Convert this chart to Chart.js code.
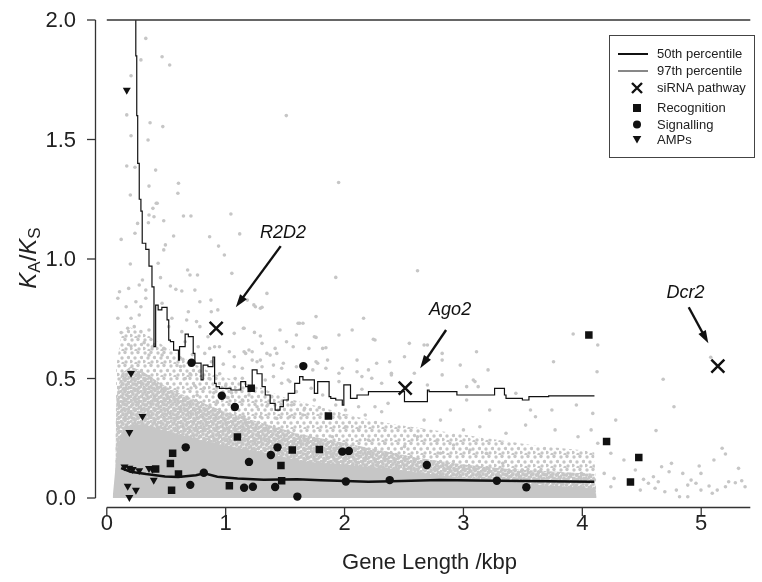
<!DOCTYPE html>
<html><head><meta charset="utf-8">
<script src="https://cdn.jsdelivr.net/npm/chart.js@4.4.1/dist/chart.umd.min.js"></script>
<style>html,body{margin:0;padding:0;background:#fff;}</style>
</head><body>
<canvas id="c" width="762" height="582"></canvas>
<script>
// ---------- DATA ----------
const xTickValues = [0, 1, 2, 3, 4, 5];
const xTickLabels = ['0', '1', '2', '3', '4', '5'];
const yTickValues = [0, 0.5, 1.0, 1.5, 2.0];
const yTickLabels = ['0.0', '0.5', '1.0', '1.5', '2.0'];
const xAxisTitle = 'Gene Length /kbp';
const legendLabels = ['50th percentile', '97th percentile', 'siRNA pathway', 'Recognition', 'Signalling', 'AMPs'];

// 97th percentile (kbp, Ka/Ks)
const p97 = [[0.244,2.10],[0.252,1.85],[0.260,1.60],[0.273,1.40],[0.287,1.25],[0.298,1.20],[0.328,1.066],[0.355,1.04],[0.380,0.97],[0.397,0.883],[0.411,0.633],[0.432,0.807],[0.463,0.787],[0.507,0.798],[0.521,0.745],[0.535,0.661],[0.562,0.654],[0.603,0.619],[0.612,0.577],[0.659,0.633],[0.686,0.686],[0.727,0.675],[0.741,0.605],[0.793,0.564],[0.810,0.494],[0.851,0.556],[0.893,0.55],[0.907,0.59],[0.920,0.48],[0.948,0.466],[1.044,0.459],[1.127,0.452],[1.168,0.487],[1.223,0.466],[1.264,0.536],[1.306,0.52],[1.333,0.466],[1.374,0.431],[1.416,0.396],[1.457,0.368],[1.485,0.382],[1.526,0.41],[1.581,0.438],[1.622,0.48],[1.650,0.508],[1.692,0.494],[1.746,0.494],[1.774,0.438],[1.829,0.487],[1.870,0.487],[1.884,0.424],[1.926,0.417],[1.981,0.41],[1.994,0.389],[2.050,0.473],[2.105,0.417],[2.201,0.431],[2.283,0.445],[2.504,0.445],[2.531,0.403],[2.697,0.403],[2.711,0.452],[2.945,0.445],[3.0,0.431],[3.262,0.431],[3.275,0.459],[3.345,0.459],[3.358,0.431],[3.496,0.417],[3.551,0.41],[3.717,0.424],[4.102,0.427]];
// 50th percentile
const p50 = [[0.12,0.125],[0.20,0.11],[0.33,0.10],[0.49,0.09],[0.60,0.088],[0.75,0.095],[0.82,0.103],[0.93,0.089],[1.10,0.082],[1.32,0.076],[1.60,0.078],[1.80,0.074],[1.94,0.072],[2.20,0.068],[2.40,0.070],[2.80,0.075],[3.10,0.073],[3.50,0.071],[4.10,0.068]];

// marker genes
const siRNA = [[0.92,0.71],[2.51,0.46],[5.14,0.552]];
const siRNANames = ['R2D2', 'Ago2', 'Dcr2'];
const recognition = [[1.215,0.459],[1.864,0.343],[1.099,0.255],[0.554,0.187],[0.535,0.144],[0.411,0.121],[0.603,0.100],[1.560,0.201],[1.788,0.203],[1.465,0.136],[1.031,0.051],[0.545,0.032],[1.471,0.072],[4.055,0.682],[4.204,0.236],[4.475,0.169],[4.405,0.067]];
const signalling = [[0.713,0.566],[0.967,0.428],[1.077,0.381],[1.653,0.552],[0.664,0.212],[1.196,0.151],[1.380,0.180],[1.436,0.212],[0.816,0.106],[0.702,0.055],[1.155,0.043],[1.229,0.047],[1.416,0.046],[1.603,0.006],[1.981,0.194],[2.036,0.197],[2.011,0.069],[2.380,0.075],[2.692,0.138],[3.281,0.072],[3.529,0.045]];
const amps = [[0.168,1.707],[0.204,0.522],[0.300,0.342],[0.190,0.275],[0.149,0.131],[0.190,0.125],[0.218,0.120],[0.273,0.115],[0.355,0.124],[0.383,0.121],[0.395,0.075],[0.176,0.050],[0.245,0.033],[0.190,0.003]];

// all-gene cloud: outlines of its sparse, speckled and solid parts (kbp, Ka/Ks)
const cloudSparse = [[0.07,0],[0.08,0.55],[0.12,0.68],[0.18,0.72],[0.25,0.70],[0.35,0.68],[0.50,0.63],[0.70,0.57],[0.90,0.52],[1.10,0.49],[1.30,0.46],[1.50,0.42],[1.80,0.38],[2.10,0.34],[2.40,0.31],[2.80,0.28],[3.20,0.25],[3.60,0.22],[4.00,0.20],[4.10,0.19],[4.12,0]];
const cloudSpeckled = [[0.07,0],[0.08,0.42],[0.12,0.52],[0.20,0.55],[0.30,0.53],[0.45,0.48],[0.60,0.44],[0.80,0.40],[1.00,0.36],[1.20,0.33],[1.40,0.30],[1.60,0.27],[1.80,0.25],[2.00,0.23],[2.30,0.20],[2.60,0.17],[3.00,0.14],[3.40,0.12],[3.80,0.11],[4.10,0.10],[4.12,0]];
const cloudSolid = [[0.05,0.005],[0.09,0.22],[0.15,0.30],[0.30,0.31],[0.50,0.28],[0.80,0.24],[1.10,0.21],[1.40,0.18],[1.70,0.15],[2.00,0.14],[2.40,0.12],[2.80,0.095],[3.20,0.075],[3.60,0.055],[4.10,0.04],[4.12,0]];
// all-gene cloud: individually visible genes
const otherGenes = [
[.328,1.923],[.465,1.846],[.529,1.812],[.287,1.833],[.204,1.767],[.168,1.603],[.364,1.570],[.471,1.554],[.204,1.516],[.347,1.498],[.168,1.389],[.237,1.384],[.411,1.372],[.355,1.305],[.603,1.317],[.598,1.275],[.198,1.268],[.416,1.233],[.388,1.212],
[.424,1.233],[.355,1.184],[.397,1.177],[.259,1.149],[.350,1.152],[.479,1.160],[.645,1.180],[.708,1.180],[1.044,1.188],[.121,1.082],[.237,1.108],[.562,1.096],[.865,1.093],[1.118,1.105],[.493,1.059],[.479,1.038],[.940,1.054],[.989,1.017],[.198,.979],[.432,.982],[.680,.954],[.700,.933],[.763,.933],[1.052,.940],[.300,.912],[.452,.922],[.535,.887],[.107,.863],[.184,.877],[.273,.891],[.328,.870],[.581,.873],[.631,.866],[.741,.870],[.093,.836],[.163,.800],[.245,.821],[.287,.800],[.328,.836],[.465,.815],[.783,.821],[.879,.779],[.934,.787],[.686,.779],[.093,.752],[.204,.752],[.273,.766],[.548,.752],[.672,.745],[.755,.738],[.121,.692],[.176,.710],[.231,.717],[.287,.696],[.355,.703],[.521,.717],[.631,.696],[.783,.717],[.851,.675],[1.072,.689],[1.155,.710],[.204,.636],[.314,.650],[.383,.633],[.479,.626],[.659,.654],[.769,.633],[.865,.626],[.948,.633],[1.031,.612],[1.155,.612],[.355,.598],[.465,.598],
[1.926,.923],[2.614,.951],[1.347,.856],[.876,.828],[1.182,.828],[1.250,.800],[1.292,.794],[1.760,.759],[1.622,.731],[1.457,.703],[1.292,.678],[1.595,.682],[1.746,.675],[1.953,.682],[2.064,.703],[2.160,.752],[2.256,.661],[2.545,.647],[2.697,.640],[3.110,.612],[1.416,.626],[1.347,.605],[1.430,.605],[1.568,.633],[1.816,.626],[1.223,.612],[1.072,.591],[.907,.633],[.824,.605],[1.072,.549],[1.223,.577],[1.292,.577],[1.857,.577],[2.105,.577],[2.270,.564],[2.504,.591],[2.821,.577],[2.973,.556],[3.083,.494],[3.207,.536],[1.471,.543],[1.595,.549],[1.774,.564],[1.981,.543],[2.105,.528],[2.201,.536],[2.394,.522],[2.587,.522],[1.402,.508],[1.526,.494],[2.821,.515],[2.697,.473],[3.027,.466],[3.124,.466],
[1.237,.808],[1.306,.798],[1.609,.731],[1.650,.731],[1.149,.710],[1.242,.693],[1.760,.672],[2.242,.664],[1.306,.647],[1.512,.654],[1.700,.626],[1.843,.629],[1.196,.619],[1.168,.605],[1.374,.598],[1.264,.570],[1.485,.564],[1.760,.570],[2.380,.570],[1.140,.543],[1.306,.549],[1.402,.556],[1.733,.536],[1.843,.543],[1.953,.522],[2.146,.508],[2.229,.501],[2.394,.515],[1.140,.501],[1.333,.494],[1.471,.480],[1.540,.487],[1.953,.487],[2.146,.455],[2.312,.480],[1.595,.445],[1.719,.459],[1.816,.431],[2.366,.396],[1.140,.410],[1.196,.431],[1.388,.424],[1.746,.410],[1.926,.389],[2.118,.382],[2.256,.382],[1.264,.382],[1.347,.385],[1.554,.389],[1.664,.375],[1.788,.379],[2.008,.368],[2.174,.347],[2.312,.361],[1.155,.340],[1.292,.340],[1.430,.333],[1.540,.340],[1.650,.347],[1.870,.340],[1.953,.340],
[2.669,.640],[2.821,.605],[3.758,.570],[3.923,.686],[4.124,.528],[4.130,.640],[3.097,.487],[3.441,.438],[3.564,.368],[3.744,.368],[3.950,.389],[4.088,.354],[4.281,.326],[2.890,.368],[3.027,.410],[3.221,.368],[2.669,.326],[2.807,.326],[3.0,.285],[3.138,.298],[3.358,.271],[3.523,.305],[3.606,.340],[3.771,.285],[3.964,.256],[4.074,.285],[4.130,.229],[4.240,.187],[4.350,.159],[4.845,.103],[4.102,.075],[4.184,.103],[4.267,.082],[4.240,.047],[3.992,.103],[3.936,.047],[3.826,.062],[3.744,.089],[3.634,.110],[3.496,.117],[3.386,.089],[3.331,.145],[3.193,.187],[3.055,.201],[2.917,.222],[2.807,.187],[2.779,.243],[2.614,.256],[2.504,.215],[2.339,.229],[2.201,.243],[2.118,.285],[2.008,.298],[1.898,.256],
[5.080,.589],[4.680,.497],[4.771,.382],[4.620,.282],[5.176,.208],[5.204,.184],[5.107,.159],[5.314,.124],[4.983,.134],[4.998,.103],[4.750,.145],[4.667,.131],[4.730,.110],[4.446,.117],[4.515,.078],[4.598,.089],[4.639,.068],[4.556,.062],[4.488,.033],[4.612,.041],[4.694,.026],[4.791,.033],[4.887,.054],[4.915,.075],[4.956,.062],[4.998,.033],[5.066,.050],[5.135,.033],[5.204,.047],[5.231,.068],[5.287,.064],[5.341,.072],[5.369,.047],[4.887,.005],[5.093,.020],[4.818,.005],
[.62,.55],[.66,.50],[.70,.52],[.74,.47],[.78,.53],[.82,.46],[.86,.50],[.90,.44],[.95,.52],[1.00,.47],[1.05,.44],[1.08,.50],[.64,.58],[.72,.60],[.88,.57],[.98,.56],[1.02,.42],[.93,.40],[.76,.43],[1.51,1.60],[1.95,1.32]
];

// annotation anchors (kbp, Ka/Ks)
const annotLabelAt = [[1.483,1.109],[2.888,0.787],[4.868,0.858]];
const annotArrowFrom = [[1.463,1.054],[2.854,0.703],[4.895,0.798]];
const annotArrowTo = [[1.085,0.798],[2.636,0.543],[5.060,0.647]];

// ---------- RENDER ----------
const toXY = arr => arr.map(p => ({x: p[0], y: p[1]}));
const FONT = "'Liberation Sans', Arial, Helvetica, sans-serif";
const INK = '#111';
const GREY = '#c6c6c6';
const canvas = document.getElementById('c');
const mainCtx = canvas.getContext('2d');

function speckle(size, spots, r) {
  const t = document.createElement('canvas');
  t.width = t.height = size;
  const g = t.getContext('2d');
  g.fillStyle = GREY;
  spots.forEach(s => { g.beginPath(); g.arc(s[0], s[1], r, 0, Math.PI * 2); g.fill(); });
  return mainCtx.createPattern(t, 'repeat');
}
const sparseTex = speckle(13, [[2,2],[8,1.5],[11.5,6.5],[5,7],[1,10.5],[9,11],[6,12.5]], 1.7);
const denseTex = speckle(10, [[1,1],[5,0.5],[8.5,2.5],[3,4],[6.5,5],[0.5,6.5],[9.5,7.5],[4,8.5],[7,9.5]], 1.9);

function drawArrow(ctx, x1, y1, x2, y2) {
  const a = Math.atan2(y2 - y1, x2 - x1), L = 13, W = 4.2;
  const c = Math.cos(a), s = Math.sin(a);
  ctx.beginPath(); ctx.moveTo(x1, y1); ctx.lineTo(x2 - c * L * 0.8, y2 - s * L * 0.8);
  ctx.lineWidth = 2.4; ctx.strokeStyle = INK; ctx.stroke();
  ctx.beginPath(); ctx.moveTo(x2, y2);
  ctx.lineTo(x2 - c * L + s * W, y2 - s * L - c * W);
  ctx.lineTo(x2 - c * L - s * W, y2 - s * L + c * W);
  ctx.closePath(); ctx.fillStyle = INK; ctx.fill();
}

const decor = {
  id: 'decor',
  afterDatasetsDraw(chart) {
    const ctx = chart.ctx, xs = chart.scales.x, ys = chart.scales.y, ca = chart.chartArea;
    ctx.save();
    ctx.strokeStyle = '#333'; ctx.lineWidth = 1.3;
    const yTop = ys.getPixelForValue(yTickValues[yTickValues.length - 1]);
    const yBot = ys.getPixelForValue(yTickValues[0]);
    ctx.beginPath(); ctx.moveTo(ca.left + 0.5, yTop); ctx.lineTo(ca.left + 0.5, yBot); ctx.stroke();
    ctx.fillStyle = '#222'; ctx.font = '22px ' + FONT; ctx.textAlign = 'right'; ctx.textBaseline = 'middle';
    yTickValues.forEach((v, i) => {
      const py = ys.getPixelForValue(v);
      ctx.beginPath(); ctx.moveTo(ca.left - 8, py); ctx.lineTo(ca.left + 0.5, py); ctx.stroke();
      ctx.fillText(yTickLabels[i], ca.left - 19, py + 1);
    });
    const x0 = xs.getPixelForValue(xTickValues[0]);
    ctx.beginPath(); ctx.moveTo(x0, ca.bottom - 0.5); ctx.lineTo(ca.right, ca.bottom - 0.5); ctx.stroke();
    ctx.beginPath(); ctx.moveTo(x0, yTop); ctx.lineTo(ca.right, yTop); ctx.stroke();
    ctx.textAlign = 'center'; ctx.textBaseline = 'alphabetic';
    xTickValues.forEach((v, i) => {
      const px = xs.getPixelForValue(v);
      ctx.beginPath(); ctx.moveTo(px, ca.bottom - 0.5); ctx.lineTo(px, ca.bottom + 8); ctx.stroke();
      ctx.fillText(xTickLabels[i], px, 530);
    });
    ctx.fillText(xAxisTitle, (x0 + ca.right) / 2 + 1, 569);
    ctx.save();
    ctx.translate(36, 258); ctx.rotate(-Math.PI / 2);
    const runs = [['K', 'italic 24px', 0], ['A', '17px', 4], ['/', '24px', 0], ['K', 'italic 24px', 0], ['S', '17px', 4]];
    let W = 0;
    runs.forEach(r => { ctx.font = r[1] + ' ' + FONT; W += ctx.measureText(r[0]).width; });
    let u = -W / 2; ctx.textAlign = 'left';
    runs.forEach(r => { ctx.font = r[1] + ' ' + FONT; ctx.fillText(r[0], u, r[2]); u += ctx.measureText(r[0]).width; });
    ctx.restore();
    ctx.font = 'italic 18px ' + FONT; ctx.fillStyle = INK; ctx.textAlign = 'center'; ctx.textBaseline = 'middle';
    siRNANames.forEach((name, i) => {
      ctx.fillText(name, xs.getPixelForValue(annotLabelAt[i][0]), ys.getPixelForValue(annotLabelAt[i][1]));
      drawArrow(ctx, xs.getPixelForValue(annotArrowFrom[i][0]), ys.getPixelForValue(annotArrowFrom[i][1]),
                xs.getPixelForValue(annotArrowTo[i][0]), ys.getPixelForValue(annotArrowTo[i][1]));
    });
    const lx = 609.5, ly = 35.5;
    ctx.fillStyle = '#fff'; ctx.fillRect(lx, ly, 145, 122);
    ctx.strokeStyle = '#444'; ctx.lineWidth = 1; ctx.strokeRect(lx, ly, 145, 122);
    const rows = [54, 71, 88, 108, 124.5, 139.5];
    const sx = 637, tx = 657;
    ctx.strokeStyle = INK; ctx.fillStyle = INK;
    ctx.lineWidth = 2; ctx.beginPath(); ctx.moveTo(618, rows[0]); ctx.lineTo(648, rows[0]); ctx.stroke();
    ctx.lineWidth = 1; ctx.beginPath(); ctx.moveTo(618, rows[1]); ctx.lineTo(648, rows[1]); ctx.stroke();
    ctx.lineWidth = 2.4; ctx.beginPath();
    ctx.moveTo(sx - 5, rows[2] - 5); ctx.lineTo(sx + 5, rows[2] + 5); ctx.moveTo(sx + 5, rows[2] - 5); ctx.lineTo(sx - 5, rows[2] + 5); ctx.stroke();
    ctx.fillRect(sx - 4, rows[3] - 4, 8, 8);
    ctx.beginPath(); ctx.arc(sx, rows[4], 4, 0, Math.PI * 2); ctx.fill();
    ctx.beginPath(); ctx.moveTo(sx - 4.3, rows[5] - 3.5); ctx.lineTo(sx + 4.3, rows[5] - 3.5); ctx.lineTo(sx, rows[5] + 4); ctx.closePath(); ctx.fill();
    ctx.fillStyle = '#222'; ctx.font = '13px ' + FONT; ctx.textAlign = 'left'; ctx.textBaseline = 'middle';
    legendLabels.forEach((t, i) => ctx.fillText(t, tx, rows[i] + 0.5));
    ctx.restore();
  }
};

new Chart(canvas, {
  type: 'scatter',
  data: {
    datasets: [
      {type: 'line', data: toXY(cloudSparse), fill: 'origin', backgroundColor: sparseTex, borderWidth: 0, pointRadius: 0, order: 13},
      {type: 'line', data: toXY(cloudSpeckled), fill: 'origin', backgroundColor: denseTex, borderWidth: 0, pointRadius: 0, order: 12},
      {type: 'line', data: toXY(cloudSolid), fill: 'origin', backgroundColor: GREY, borderWidth: 0, pointRadius: 0, order: 11},
      {data: toXY(otherGenes), backgroundColor: GREY, borderWidth: 0, pointRadius: 1.8, order: 10},
      {type: 'line', data: toXY(p50), borderColor: INK, borderWidth: 2.5, pointRadius: 0, fill: false, order: 6},
      {type: 'line', data: toXY(p97), borderColor: INK, borderWidth: 1.2, pointRadius: 0, fill: false, stepped: 'after', order: 5},
      {data: toXY(recognition), pointStyle: 'rect', pointRadius: 5.3, backgroundColor: INK, borderColor: INK, borderWidth: 0, order: 3},
      {data: toXY(signalling), pointStyle: 'circle', pointRadius: 4.2, backgroundColor: INK, borderColor: INK, borderWidth: 0, order: 3},
      {data: toXY(amps), pointStyle: 'triangle', pointRotation: 180, pointRadius: 4.6, backgroundColor: INK, borderColor: INK, borderWidth: 0, order: 3},
      {data: toXY(siRNA), pointStyle: 'crossRot', pointRadius: 9.2, borderColor: INK, backgroundColor: INK, borderWidth: 2.5, order: 2}
    ]
  },
  options: {
    responsive: false, animation: false, devicePixelRatio: 1,
    layout: {padding: {left: 95, right: 0, top: 20, bottom: 74}},
    plugins: {legend: {display: false}, tooltip: {enabled: false}},
    scales: {
      x: {type: 'linear', display: false, min: -0.0992, max: 5.413},
      y: {type: 'linear', display: false, min: -0.0418, max: 2.0}
    }
  },
  plugins: [decor]
});
</script>
</body></html>
